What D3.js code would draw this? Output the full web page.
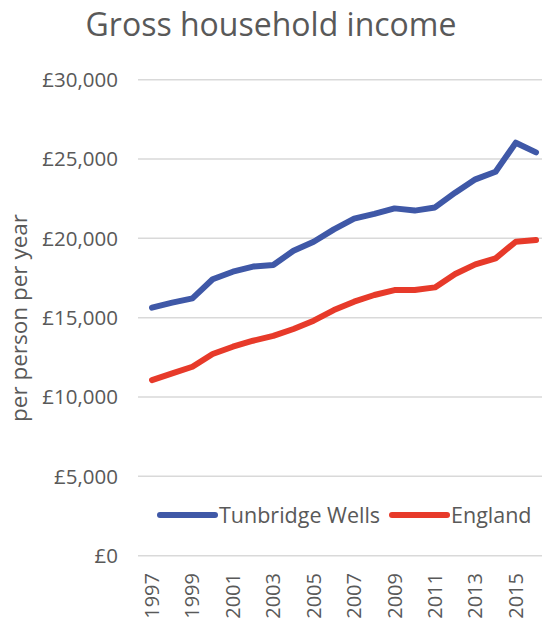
<!DOCTYPE html>
<html>
<head>
<meta charset="utf-8">
<script src="https://cdn.jsdelivr.net/npm/d3@7"></script>
<style>
	html, body { margin: 0; padding: 0; background: #fff; }
	svg { display: block; }
	text { font-family: "Open Sans", Lato, sans-serif; fill: #595959; }
</style>
</head>
<body>
<svg id="chart" width="542" height="623"></svg>
<script>
// data
const years = [1997, 1998, 1999, 2000, 2001, 2002, 2003, 2004, 2005, 2006, 2007, 2008, 2009, 2010, 2011, 2012, 2013, 2014, 2015, 2016]
const tunbridgeWells = [15630, 15950, 16220, 17420, 17900, 18220, 18320, 19220, 19790, 20570, 21240, 21540, 21890, 21750, 21950, 22880, 23720, 24200, 26030, 25420]
const england = [11070, 11490, 11910, 12710, 13170, 13550, 13850, 14290, 14810, 15480, 16010, 16430, 16740, 16740, 16910, 17750, 18360, 18740, 19790, 19900]
const yTicks = [0, 5000, 10000, 15000, 20000, 25000, 30000]
const xTickYears = years.filter(y => y % 2 === 1)

const series = [
	{name: 'Tunbridge Wells', values: tunbridgeWells, color: '#3F58A7'},
	{name: 'England', values: england, color: '#E73A2A'},
]

const svg = d3.select('#chart')

const x = d3.scalePoint().domain(years).range([152, 536])
const y = d3.scaleLinear().domain([0, 30000]).range([555.7, 79.7])

// title
svg.append('text')
	.attr('x', 271)
	.attr('y', 36)
	.attr('text-anchor', 'middle')
	.style('font-size', '32px')
	.text('Gross household income')

// gridlines + y labels
const yAxis = svg.append('g')
yAxis.selectAll('line').data(yTicks).join('line')
	.attr('x1', 138).attr('x2', 542)
	.attr('y1', d => y(d)).attr('y2', d => y(d))
	.attr('stroke', '#D9D9D9').attr('stroke-width', 1.5)
yAxis.selectAll('text').data(yTicks).join('text')
	.attr('x', 118)
	.attr('y', d => y(d))
	.attr('dy', '0.35em')
	.attr('text-anchor', 'end')
	.style('font-size', '20.5px')
	.text(d => '£' + d3.format(',')(d))

// y title
svg.append('text')
	.attr('transform', 'translate(27,318) rotate(-90)')
	.attr('text-anchor', 'middle')
	.style('font-size', '22.5px')
	.text('per person per year')

// x labels (rotated)
svg.append('g').selectAll('text').data(xTickYears).join('text')
	.attr('transform', d => `translate(${x(d)},573) rotate(-90)`)
	.attr('dy', '0.35em')
	.attr('text-anchor', 'end')
	.style('font-size', '20px')
	.text(d => d)

// lines
const line = d3.line().x((d, i) => x(years[i])).y(d => y(d))
svg.append('g').selectAll('path').data(series).join('path')
	.attr('d', d => line(d.values))
	.attr('fill', 'none')
	.attr('stroke', d => d.color)
	.attr('stroke-width', 6)
	.attr('stroke-linejoin', 'round')
	.attr('stroke-linecap', 'round')

// legend
const legendX = [160, 392]
const legend = svg.append('g').selectAll('g').data(series).join('g')
	.attr('transform', (d, i) => `translate(${legendX[i]},515)`)
legend.append('line')
	.attr('x1', 0).attr('x2', 55)
	.attr('stroke', d => d.color)
	.attr('stroke-width', 6)
	.attr('stroke-linecap', 'round')
legend.append('text')
	.attr('x', 59)
	.attr('dy', '0.35em')
	.style('font-size', '21.5px')
	.text(d => d.name)
</script>
</body>
</html>
